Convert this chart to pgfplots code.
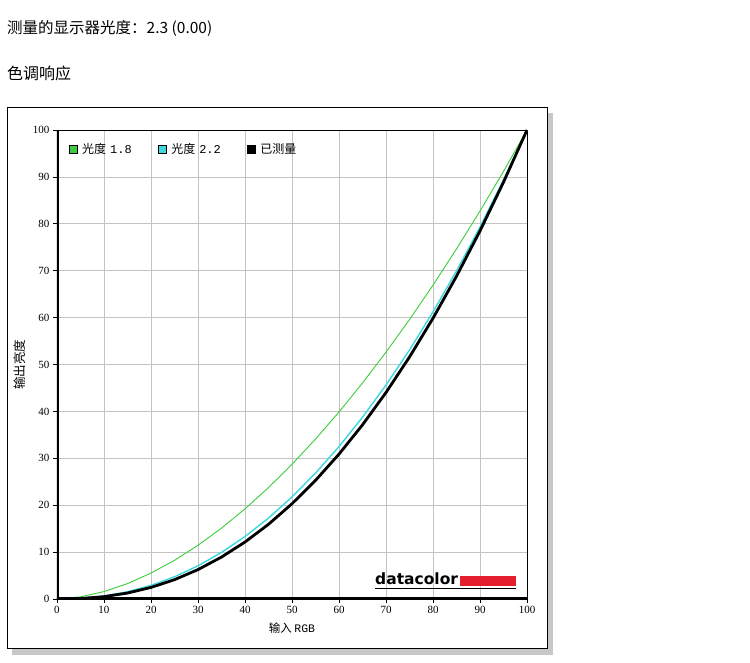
\documentclass[border=0pt]{standalone}
\usepackage{pgfplots}
\pgfplotsset{compat=1.18}
\usepackage{fontspec}
\setmainfont{Liberation Serif}
\setsansfont{DejaVu Sans}
\setmonofont{Liberation Mono}
\newfontfamily\cjk{Noto Sans CJK SC}

\definecolor{g18}{RGB}{60,205,60}
\definecolor{c22}{RGB}{60,215,225}
\definecolor{gridc}{RGB}{195,195,195}
\definecolor{dcred}{RGB}{228,30,45}

% tone response
\pgfplotstableread{
x    g18    g22    meas
0    0.00   0.00   0.00
5    0.46   0.14   0.10
10   1.58   0.63   0.50
15   3.29   1.54   1.27
20   5.52   2.90   2.47
25   8.25   4.74   4.12
30   11.45  7.07   6.27
35   15.11  9.93   8.94
40   19.22  13.32  12.15
45   23.76  17.26  15.93
50   28.72  21.76  20.31
55   34.09  26.84  25.29
60   39.87  32.50  30.89
65   46.05  38.76  37.13
70   52.63  45.62  44.03
75   59.58  53.10  51.60
80   66.92  61.21  59.86
85   74.64  69.94  68.82
90   82.73  79.31  78.48
95   91.18  89.33  88.87
100  100.00 100.00 100.00
}\tone

\begin{document}
\begin{tikzpicture}[x=1pt,y=1pt]
\useasboundingbox (0,0) rectangle (750,-663);
\node[anchor=west, inner sep=0pt, font=\cjk\fontsize{15.5}{18}\selectfont] at (7,-28) {测量的显示器光度：2.3 (0.00)};
\node[anchor=west, inner sep=0pt, font=\cjk\fontsize{16}{18}\selectfont] at (7,-73) {色调响应};
% frame with shadow
\fill[black!22] (12,-113) rectangle (553,-655);
\filldraw[fill=white, draw=black, line width=1pt] (7,-108) rectangle (547,-648);

\begin{axis}[
  at={(57pt,-599pt)}, anchor=south west,
  scale only axis, width=470pt, height=469pt,
  xmin=0, xmax=100, ymin=0, ymax=100,
  xtick={0,10,...,100}, ytick={0,10,...,100},
  grid=major, grid style={gridc, line width=0.7pt},
  tick pos=left, tick align=outside, major tick length=4pt,
  tick style={black, line width=0.8pt},
  axis line style={black, line width=0.9pt},
  ticklabel style={font=\fontsize{11}{12}\selectfont},
  /pgf/number format/assume math mode=true,
  xlabel={\cjk 输入\ \ttfamily RGB},
  ylabel={\cjk\fontsize{12.5}{14}\selectfont 输出亮度},
  label style={font=\fontsize{11.5}{13}\selectfont},
  xlabel style={at={(axis description cs:0.5,-0.062)}, anchor=center},
  ylabel style={at={(axis description cs:-0.079,0.5)}, anchor=center},
  legend columns=3,
  legend style={at={(axis description cs:0.018,0.98)}, anchor=north west,
    draw=none, fill=none, font=\cjk\fontsize{12}{13}\selectfont,
    /tikz/every odd column/.append style={column sep=3pt},
    /tikz/every even column/.append style={column sep=24pt}},
]
\addplot[g18, line width=0.9pt, no marks,
  legend image code/.code={\draw[black, fill=g18, line width=0.5pt] (0pt,-4pt) rectangle (8pt,4pt);}]
  table[x=x, y=g18] {\tone};
\addlegendentry{光度\hspace{4pt}{\ttfamily 1.8}}
\addplot[c22, line width=1.4pt, no marks,
  legend image code/.code={\draw[black, fill=c22, line width=0.5pt] (0pt,-4pt) rectangle (8pt,4pt);}]
  table[x=x, y=g22] {\tone};
\addlegendentry{光度\hspace{4pt}{\ttfamily 2.2}}
\addplot[black, line width=2.8pt, no marks,
  legend image code/.code={\draw[black, fill=black, line width=0.5pt] (0pt,-4pt) rectangle (8pt,4pt);}]
  table[x=x, y=meas] {\tone};
\addlegendentry{已测量}
% heavy left and bottom axis lines
\draw[black, line width=3.5pt] (rel axis cs:0,1) -- (rel axis cs:0,0) -- (rel axis cs:1,0);
\end{axis}

% datacolor logo
\node[anchor=base west, inner sep=0pt, font=\sffamily\bfseries\fontsize{15.5}{17}\selectfont] at (375,-584) {datacolor};
\fill[dcred] (460,-576) rectangle (516,-586);
\draw[black, line width=1.4pt] (375,-588.5) -- (516,-588.5);
\end{tikzpicture}
\end{document}
